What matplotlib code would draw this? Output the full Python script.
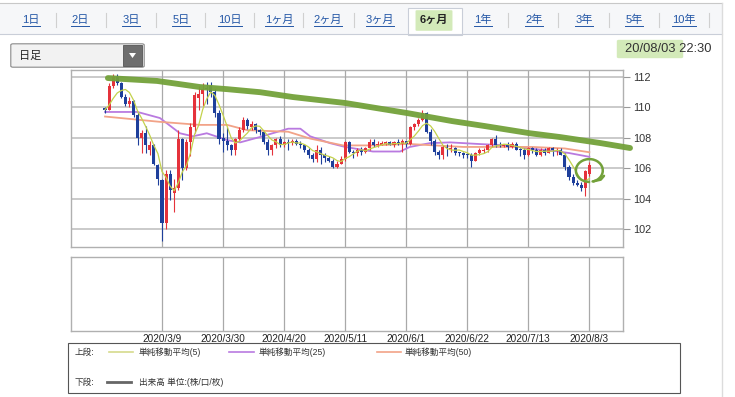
import numpy as np
import pandas as pd
import matplotlib
matplotlib.use("Agg")
import matplotlib.pyplot as plt
from matplotlib.patches import Rectangle, FancyBboxPatch, Arc, Polygon
from matplotlib.lines import Line2D

plt.rcParams['font.family'] = ['Liberation Sans', 'Noto Sans CJK JP', 'DejaVu Sans']

W, H = 735, 397

# ---------------- data ----------------
dates = pd.bdate_range('2020-02-18', '2020-08-03')

opens = [109.95, 109.85, 111.4, 112.0, 111.6, 110.7, 110.2, 110.4, 109.5, 108.0,
         108.3, 107.2, 107.5, 106.2, 105.2, 102.4, 105.6, 104.4, 104.7, 107.9,
         106.0, 107.7, 108.7, 110.6, 110.9, 111.3, 111.4, 111.0, 109.6, 108.0,
         107.8, 107.5, 107.2, 107.9, 108.5, 109.2, 108.7, 108.9, 108.5, 108.4,
         107.7, 107.2, 107.5, 107.9, 107.5, 107.75, 107.65, 107.8, 107.6, 107.5,
         107.2, 106.9, 106.6, 107.2, 106.9, 106.7, 106.5, 106.1, 106.3, 106.6,
         107.7, 107.1, 107.0, 107.2, 107.1, 107.3, 107.7, 107.5, 107.55, 107.6,
         107.7, 107.5, 107.7, 107.6, 107.8, 107.6, 108.7, 108.9, 109.2, 109.6,
         108.4, 107.8, 107.1, 106.9, 107.4, 107.25, 107.3, 107.05, 107.0, 106.95,
         106.9, 106.5, 107.0, 107.15, 107.2, 107.5, 107.9, 107.55, 107.45, 107.5,
         107.4, 107.6, 107.25, 107.2, 106.9, 107.3, 107.2, 106.9, 107.2, 107.0,
         107.3, 107.15, 107.2, 106.9, 106.1, 105.4, 105.0, 104.9, 104.7, 105.6]
highs = [110.05, 111.6, 112.2, 112.2, 111.7, 110.9, 110.7, 110.5, 109.7, 108.5,
         108.8, 107.8, 107.6, 106.3, 105.3, 105.9, 105.9, 105.3, 108.5, 108.0,
         107.9, 109.0, 111.0, 111.4, 111.6, 111.7, 111.7, 111.2, 109.8, 108.3,
         108.7, 107.6, 108.0, 108.7, 109.4, 109.3, 109.1, 109.0, 108.6, 108.4,
         107.9, 107.6, 108.0, 108.1, 107.8, 107.9, 107.9, 107.9, 107.8, 107.6,
         107.3, 107.0, 107.5, 107.4, 107.0, 106.8, 106.6, 106.5, 106.8, 107.8,
         107.8, 107.2, 107.3, 107.4, 107.4, 107.9, 107.9, 107.8, 107.8, 107.8,
         107.8, 107.8, 107.9, 107.9, 107.8, 108.8, 109.0, 109.3, 109.85, 109.7,
         108.6, 107.9, 107.2, 107.5, 107.6, 107.6, 107.4, 107.1, 107.1, 107.0,
         107.0, 107.1, 107.3, 107.3, 107.6, 108.0, 108.2, 107.7, 107.6, 107.7,
         107.7, 107.7, 107.3, 107.3, 107.4, 107.4, 107.3, 107.3, 107.3, 107.4,
         107.4, 107.3, 107.3, 107.0, 106.2, 105.6, 105.2, 105.1, 105.9, 106.4]
lows = [109.65, 109.8, 111.3, 111.5, 110.6, 110.1, 110.0, 109.4, 107.5, 107.0,
        107.0, 106.9, 106.2, 104.9, 101.2, 102.0, 103.9, 103.1, 104.6, 105.2,
        105.9, 106.8, 108.3, 109.8, 110.1, 110.2, 110.7, 109.4, 107.6, 107.1,
        107.2, 106.9, 106.9, 107.8, 108.4, 108.6, 108.5, 108.3, 108.2, 107.6,
        106.9, 106.9, 107.3, 107.4, 107.4, 107.2, 107.5, 107.5, 107.3, 107.1,
        106.7, 106.4, 106.4, 106.3, 106.4, 106.4, 106.0, 106.0, 106.3, 106.5,
        107.0, 106.7, 106.8, 106.9, 107.0, 107.2, 107.4, 107.4, 107.5, 107.5,
        107.5, 107.4, 107.5, 107.1, 107.4, 107.5, 108.5, 108.8, 109.1, 108.3,
        107.5, 106.9, 106.6, 106.6, 106.8, 107.1, 106.9, 106.8, 106.7, 106.7,
        106.1, 106.5, 106.9, 107.0, 107.1, 107.4, 107.4, 107.4, 107.4, 107.2,
        107.3, 107.2, 106.8, 106.6, 106.8, 107.0, 106.8, 106.8, 106.9, 107.0,
        106.8, 106.9, 106.9, 105.9, 105.2, 104.9, 104.8, 104.5, 104.15, 105.5]
closes = [109.85, 111.4, 112.0, 111.6, 110.7, 110.2, 110.4, 109.5, 108.0, 108.3,
          107.5, 107.5, 106.25, 105.3, 102.4, 105.6, 104.6, 104.7, 107.9, 106.0,
          107.7, 108.7, 110.8, 110.9, 111.2, 111.2, 111.0, 109.6, 107.9, 107.8,
          107.5, 107.2, 107.9, 108.5, 109.2, 108.8, 108.9, 108.5, 108.4, 107.7,
          107.2, 107.5, 107.9, 107.5, 107.7, 107.65, 107.8, 107.6, 107.5, 107.2,
          106.9, 106.6, 107.2, 106.9, 106.7, 106.5, 106.1, 106.3, 106.6, 107.7,
          107.1, 107.0, 107.2, 107.1, 107.3, 107.7, 107.5, 107.6, 107.65, 107.7,
          107.5, 107.7, 107.6, 107.8, 107.6, 108.7, 108.9, 109.2, 109.6, 108.4,
          107.8, 107.1, 106.9, 107.4, 107.3, 107.35, 107.0, 107.0, 106.9, 106.9,
          106.5, 107.0, 107.2, 107.2, 107.5, 107.9, 107.5, 107.5, 107.5, 107.4,
          107.6, 107.2, 107.2, 106.9, 107.3, 107.2, 106.9, 107.2, 107.0, 107.3,
          107.2, 107.2, 106.9, 106.1, 105.4, 105.0, 104.9, 104.7, 105.8, 106.2]

# simple moving average (5) values, one per candle
sma5 = [109.85, 110.15, 110.59, 110.95, 111.11, 111.18, 110.98, 110.48, 109.76, 109.28,
        108.74, 108.16, 107.50, 106.96, 105.78, 105.40, 104.82, 104.52, 105.04, 105.76,
        106.18, 107.00, 108.22, 108.82, 109.86, 110.56, 111.02, 110.78, 110.18, 109.50,
        108.76, 108.00, 107.66, 107.78, 108.06, 108.32, 108.66, 108.78, 108.76, 108.46,
        108.14, 107.86, 107.74, 107.56, 107.56, 107.66, 107.72, 107.66, 107.66, 107.56,
        107.40, 107.16, 107.08, 106.96, 106.86, 106.78, 106.68, 106.50, 106.44, 106.64,
        106.76, 106.94, 107.12, 107.22, 107.14, 107.26, 107.36, 107.44, 107.54, 107.62,
        107.58, 107.62, 107.62, 107.66, 107.64, 107.88, 108.12, 108.44, 108.80, 108.96,
        108.78, 108.42, 107.96, 107.52, 107.30, 107.20, 107.18, 107.20, 107.10, 107.02,
        106.86, 106.86, 106.90, 106.96, 107.08, 107.36, 107.46, 107.52, 107.58, 107.56,
        107.50, 107.44, 107.38, 107.26, 107.24, 107.16, 107.10, 107.10, 107.12, 107.12,
        107.12, 107.18, 107.12, 106.94, 106.56, 106.12, 105.66, 105.22, 105.16, 105.32]

# SMA(25) and SMA(50) (candle index, value)
sma25_idx = [0, 8, 13.5, 18.4, 21.6, 25, 30, 33.2, 38, 45, 48, 50.4, 55.3, 59, 65.8,
             72.5, 74.9, 79.8, 84.8, 91.4, 98.8, 104, 110, 114, 119]
sma25_val = [109.7, 109.7, 109.3, 108.3, 108.1, 108.3, 107.85, 107.7, 108.05, 108.6,
             108.6, 108.1, 107.65, 107.4, 107.1, 107.1, 107.4, 107.65, 107.7, 107.6,
             107.5, 107.3, 107.15, 107.0, 106.75]
sma50_idx = [0, 13.5, 23.3, 30, 35, 45, 50.4, 58.5, 66, 74.5, 81, 88, 96.5, 105, 113, 119]
sma50_val = [109.4, 109.05, 108.85, 108.85, 108.5, 108.4, 107.95, 107.5, 107.5, 107.6,
             107.5, 107.4, 107.4, 107.4, 107.3, 107.05]

# hand-drawn green trend stroke (candle index, price)
green_idx = [0.7, 12.8, 23.3, 30.0, 38.1, 46.2, 59.0, 74.2, 85.3, 93.4, 104.4, 111.8, 121.6, 129.0]
green_val = [111.93, 111.74, 111.34, 111.2, 111.0, 110.68, 110.29, 109.63, 109.1, 108.77,
             108.3, 108.05, 107.66, 107.33]

tick_dates = ['2020-03-09', '2020-03-30', '2020-04-20', '2020-05-11',
              '2020-06-01', '2020-06-22', '2020-07-13', '2020-08-03']
tick_labels = ['2020/3/9', '2020/3/30', '2020/4/20', '2020/5/11',
               '2020/6/1', '2020/6/22', '2020/7/13', '2020/8/3']
y_ticks = [102, 104, 106, 108, 110, 112]

tabs = ['1日', '2日', '3日', '5日', '10日', '1ヶ月', '2ヶ月', '3ヶ月', '6ヶ月',
        '1年', '2年', '3年', '5年', '10年']
selected_tab = '6ヶ月'

# ---------------- figure ----------------
fig = plt.figure(figsize=(W / 100, H / 100), dpi=100)
fig.patch.set_facecolor('white')


def fx(px):
    return px / W


def fy(py):
    return 1 - py / H


def fline(x0, y0, x1, y1, **kw):
    fig.add_artist(Line2D([fx(x0), fx(x1)], [fy(y0), fy(y1)], **kw))


# --- tab bar ---
fig.add_artist(Rectangle((fx(0), fy(34)), fx(722), fy(3) - fy(34), facecolor='#f6f7f9',
                         edgecolor='none'))
fline(0, 3, 722, 3, color='#c8c8c8', lw=0.8)
fline(0, 34, 722, 34, color='#c9ced8', lw=0.8)
fline(722, 3, 722, 397, color='#dcdcdc', lw=1.0)
fig.add_artist(Rectangle((fx(408), fy(35)), fx(462) - fx(408), fy(8) - fy(35),
                         facecolor='white', edgecolor='#c9ced8', lw=0.8))
fig.add_artist(FancyBboxPatch((fx(417), fy(30)), fx(451) - fx(417), fy(11) - fy(30),
                              boxstyle='round,pad=0.002', facecolor='#cfe8b2',
                              edgecolor='none', alpha=0.9))

tab_centers = [31, 80, 131, 181, 230, 279, 328, 380, 434, 483, 534, 584, 634, 684]
sep_x = [56, 106, 156, 205, 254, 303, 354, 508, 558, 609, 659, 709]
tab_texts = []
for t, cx in zip(tabs, tab_centers):
    if t == selected_tab:
        fig.text(fx(cx), fy(20), t, ha='center', va='center', fontsize=8,
                 fontweight='bold', color='#222222')
    else:
        tt = fig.text(fx(cx), fy(20), t, ha='center', va='center', fontsize=8,
                      color='#2457a6')
        tab_texts.append(tt)
for sx in sep_x:
    fline(sx, 13, sx, 27, color='#d0d0d0', lw=0.8)

# --- dropdown ---
fig.add_artist(FancyBboxPatch((fx(13), fy(66)), fx(142) - fx(13), fy(45) - fy(66),
                              boxstyle='round,pad=0.003', facecolor='#f2f2f2',
                              edgecolor='#8a8a8a', lw=0.8))
fig.add_artist(Rectangle((fx(123), fy(66)), fx(142) - fx(123), fy(45) - fy(66),
                         facecolor='#6e6e6e', edgecolor='#555555', lw=0.6))
fig.add_artist(Polygon([[fx(129), fy(53)], [fx(136), fy(53)], [fx(132.5), fy(58)]],
                       closed=True, facecolor='white', edgecolor='none'))
fig.text(fx(19), fy(56), '日足', ha='left', va='center', fontsize=8, color='#222222')

# --- timestamp ---
fig.add_artist(FancyBboxPatch((fx(619), fy(57)), fx(681) - fx(619), fy(41) - fy(57),
                              boxstyle='round,pad=0.003', facecolor='#cfe8b2',
                              edgecolor='none', alpha=0.9))
fig.text(fx(625), fy(49), '20/08/03 22:30', ha='left', va='center', fontsize=9.3,
         color='#333333')

# --- price axes ---
x = np.arange(len(dates))
tick_pos = [dates.get_loc(pd.Timestamp(d)) for d in tick_dates]
xlim = (-8.36, 127.27)

ax = fig.add_axes([fx(71), fy(247), fx(623) - fx(71), fy(70) - fy(247)])
ax.set_xlim(*xlim)
ax.set_ylim(100.82, 112.46)
for yv in y_ticks:
    ax.axhline(yv, color='#c6c6c6', lw=1.3, zorder=0)
for tp in tick_pos:
    ax.axvline(tp, color='#a9a9a9', lw=0.9, zorder=0)
for s in ax.spines.values():
    s.set_color('#b0b0b0')
    s.set_linewidth(1.0)
ax.set_xticks([])
ax.yaxis.tick_right()
ax.set_yticks(y_ticks)
ax.set_yticklabels([str(v) for v in y_ticks])
ax.tick_params(axis='y', direction='out', length=5, color='#999999', labelsize=7.8,
               labelcolor='#333333', pad=2)

o = np.array(opens)
h = np.array(highs)
l = np.array(lows)
c = np.array(closes)
up = c >= o
cols = np.where(up, '#e5323b', '#1e3f9b')
ax.vlines(x, l, h, colors=cols, lw=0.8, zorder=3)
body_bottom = np.minimum(o, c)
body_h = np.maximum(np.abs(c - o), 0.05)
ax.bar(x, body_h, bottom=body_bottom, width=0.75, color=cols, lw=0, zorder=4)

ax.plot(sma25_idx, sma25_val, color='#b97ae0', lw=1.3, zorder=2)
ax.plot(sma50_idx, sma50_val, color='#f2a388', lw=1.3, zorder=2)
ax.plot(x, sma5, color='#c4d24c', lw=0.9, zorder=5)

ax.plot(green_idx, green_val, color='#73a13a', lw=4.2, solid_capstyle='round',
        solid_joinstyle='round', clip_on=False, zorder=8, alpha=0.95)
ax.add_patch(Arc((119.0, 105.85), 6.6, 1.5, theta1=-40, theta2=285, color='#73a13a',
                 lw=1.8, clip_on=False, zorder=8))
ax.plot([119.8, 121.8, 122.6], [105.13, 105.25, 105.5], color='#73a13a', lw=1.8,
        clip_on=False, zorder=8, solid_capstyle='round')

# --- volume axes (empty) ---
ax2 = fig.add_axes([fx(71), fy(331), fx(623) - fx(71), fy(257) - fy(331)])
ax2.set_xlim(*xlim)
ax2.set_ylim(0, 1)
for tp in tick_pos:
    ax2.axvline(tp, color='#a9a9a9', lw=0.9, zorder=0)
for s in ax2.spines.values():
    s.set_color('#b0b0b0')
    s.set_linewidth(1.0)
ax2.set_yticks([])
ax2.set_xticks(tick_pos)
ax2.set_xticklabels(tick_labels)
ax2.tick_params(axis='x', length=0, labelsize=7.2, labelcolor='#222222', pad=2)

# --- legend box ---
fig.add_artist(Rectangle((fx(68), fy(393)), fx(680) - fx(68), fy(343) - fy(393),
                         facecolor='white', edgecolor='#555555', lw=0.8))
lf = 6.2
fig.text(fx(75), fy(352), '上段:', ha='left', va='center', fontsize=lf, color='#333333')
fline(109, 352, 133, 352, color='#d6da8c', lw=1.2)
fig.text(fx(139), fy(352), '単純移動平均(5)', ha='left', va='center', fontsize=lf,
         color='#333333')
fline(229, 352, 254, 352, color='#b97ae0', lw=1.2)
fig.text(fx(259), fy(352), '単純移動平均(25)', ha='left', va='center', fontsize=lf,
         color='#333333')
fline(377, 352, 401, 352, color='#f2a388', lw=1.2)
fig.text(fx(405), fy(352), '単純移動平均(50)', ha='left', va='center', fontsize=lf,
         color='#333333')
fig.text(fx(75), fy(382), '下段:', ha='left', va='center', fontsize=lf, color='#333333')
fline(107, 382, 131, 382, color='#666666', lw=2.0)
fig.text(fx(139), fy(382), '出来高 単位:(株/口/枚)', ha='left', va='center', fontsize=lf,
         color='#333333')

# underline the tab links
fig.canvas.draw()
r = fig.canvas.get_renderer()
for tt in tab_texts:
    bb = tt.get_window_extent(renderer=r)
    fig.add_artist(Line2D([bb.x0 / fig.bbox.width, bb.x1 / fig.bbox.width],
                          [(bb.y0 - 0.5) / fig.bbox.height] * 2,
                          color='#2457a6', lw=0.7))

fig.savefig('out.png', dpi=100, facecolor='white')
